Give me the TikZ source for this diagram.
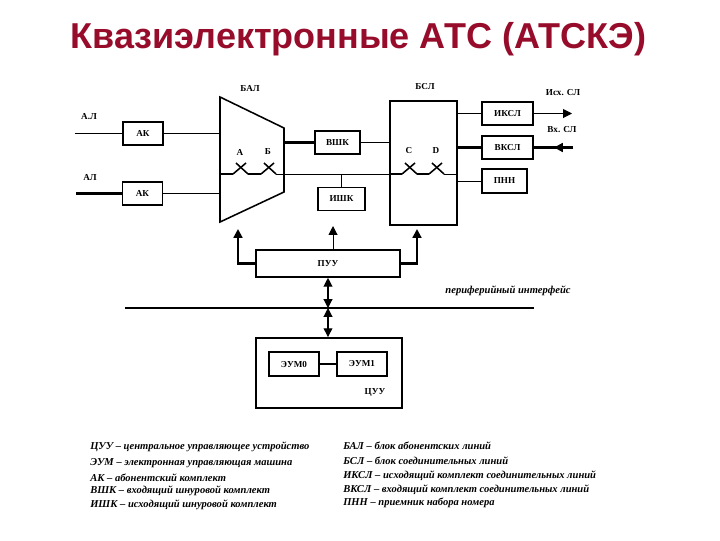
\documentclass[tikz,border=0pt]{standalone}
\usepackage{fontspec}
\setmainfont{Liberation Serif}
\newfontfamily\titlefont{Liberation Sans}
\usetikzlibrary{arrows.meta,calc}
\definecolor{zagcolor}{RGB}{150,12,42}
\tikzset{
  blok/.style={draw=black, fill=white, line width=0.8pt, inner sep=0pt, font=\bfseries\fontsize{6.5}{7}\selectfont},
  blokt/.style={blok, line width=1.3pt},
  metka/.style={font=\bfseries\fontsize{6.5}{7}\selectfont, inner sep=0pt},
  tonk/.style={black, line width=0.7pt},
  tolst/.style={black, line width=1.5pt},
  strelka/.style={-{Triangle[length=2.2mm, width=2.2mm]}},
  dvoyn/.style={{Triangle[length=2.2mm, width=2.2mm]}-{Triangle[length=2.2mm, width=2.2mm]}, line width=0.8pt},
  legenda/.style={anchor=west, inner sep=0pt, font=\bfseries\itshape\fontsize{7.5}{9}\selectfont},
  titulo/.style={text=zagcolor, font=\titlefont\bfseries\fontsize{25.6}{28}\selectfont, inner sep=0pt},
}
\newcommand{\klyuch}[1]{%
  \draw[tolst, line width=1.1pt] (#1) -- ++(13,-11);
  \draw[tolst, line width=1.1pt] ($(#1)+(3,-11)$) -- ++(12,11);
}
\begin{document}
\begin{tikzpicture}[x=0.025cm, y=-0.025cm]
  \useasboundingbox (0,0) rectangle (720,540);

  \node[titulo] (zagolovok) at (358.5,39) {Квазиэлектронные АТС (АТСКЭ)};

  % ---------------- abonent side ----------------
  \coordinate (T1) at (220,97);
  \coordinate (T2) at (284,128);
  \coordinate (T3) at (284,192);
  \coordinate (T4) at (220,222);
  \draw[tolst, line width=1.1pt, line join=miter] (T1) -- (T2) -- (T3) -- (T4) -- cycle;
  \node[metka] (balt) at (250,89) {БАЛ};
  \node[blok, minimum width=1cm, minimum height=0.575cm] (ak1) at (143,133.5) {АК};
  \node[blok, minimum width=0.98cm, minimum height=0.575cm] (ak2) at (142.5,193.5) {АК};
  \coordinate (al1) at (75,133.5);
  \coordinate (al2) at (76,193.5);
  \node[metka] (al1t) at (89,117) {А.Л};
  \node[metka] (al2t) at (90,178) {АЛ};
  \draw[tonk] (al1) -- (ak1);
  \draw[tolst] (al2) -- (ak2);
  \draw[tonk] (ak1) -- (ak1 -| T1);
  \draw[tonk] (ak2) -- (ak2 -| T1);

  % ---------------- middle boxes ----------------
  \node[blok, line width=1.1pt, minimum width=1.125cm, minimum height=0.575cm] (vshk) at (337.5,142.5) {ВШК};
  \node[blok, minimum width=1.175cm, minimum height=0.575cm] (ishk) at (341.5,199) {ИШК};
  \node[blokt, minimum width=1.675cm, minimum height=3.1cm] (bsl) at (423.5,163) {};
  \node[metka] (bslt) at (425,87) {БСЛ};
  \draw[tolst] (vshk) -- (vshk -| T2);
  \draw[tonk] (vshk) -- (vshk -| bsl.west);

  % ---------------- switches ----------------
  \coordinate (L0) at (220,174);
  \coordinate (SA) at (233,174);
  \coordinate (SAe) at (248,174);
  \coordinate (SB) at (261,174);
  \coordinate (SBe) at (276,174);
  \coordinate (SC) at (402,174);
  \coordinate (SCe) at (417,174);
  \coordinate (SD) at (429,174);
  \coordinate (SDe) at (444,174);
  \coordinate (L1) at (457,174);
  \draw[tolst, line width=1.1pt] (L0) -- (SA);
  \draw[tolst, line width=1.1pt] (SAe) -- (SB);
  \draw[tonk] (SBe) -- (SC);
  \draw[tolst, line width=1.1pt] (SCe) -- (SD);
  \draw[tonk] (SDe) -- (L1);
  \draw[tolst, line width=1.1pt] (bsl.west |- L0) -- (SC);
  \foreach \s in {SA,SB,SC,SD} { \klyuch{\s} }
  \draw[tonk] (ishk.north |- L0) -- (ishk.north);
  \node[metka] (at) at (240,152) {А};
  \node[metka] (bt) at (268,152) {Б};
  \node[metka] (ct) at (409,151) {С};
  \node[metka] (dt) at (436,151) {D};

  % ---------------- line side ----------------
  \node[blokt, minimum width=1.275cm, minimum height=0.575cm] (iksl) at (507.5,113.5) {ИКСЛ};
  \node[blokt, minimum width=1.275cm, minimum height=0.575cm] (vksl) at (507.5,147.5) {ВКСЛ};
  \node[blokt, minimum width=1.125cm, minimum height=0.6cm] (pnn) at (504.5,181) {ПНН};
  \foreach \b in {iksl,pnn} { \draw[tonk] (\b) -- (\b -| bsl.east); }
  \draw[tolst] (vksl) -- (vksl -| bsl.east);
  \coordinate (isx) at (572,113.5);
  \coordinate (vx) at (573,147.5);
  \coordinate (vxm) at (554,147.5);
  \draw[tonk, strelka] (iksl) -- (isx);
  \draw[tolst] (vksl) -- (vx);
  \draw[tolst, strelka] (vx) -- (vxm);
  \node[metka] (isxt) at (563,93) {Исх. СЛ};
  \node[metka] (vxt) at (562,130) {Вх. СЛ};

  % ---------------- control ----------------
  \node[blok, line width=1.1pt, minimum width=3.6cm, minimum height=0.675cm] (puu) at (328,263.5) {ПУУ};
  \coordinate (pa) at (238,229);
  \coordinate (pb) at (333,226);
  \coordinate (pc) at (417,229);
  \draw[tolst, strelka] (puu.west) -| (pa);
  \draw[tonk, strelka] (puu.north -| pb) -- (pb);
  \draw[tolst, strelka] (puu.east) -| (pc);

  % ---------------- bus ----------------
  \coordinate (sh1) at (125,308);
  \coordinate (sh2) at (534,308);
  \coordinate (shm) at (328,308);
  \draw[tolst] (sh1) -- (sh2);
  \node[anchor=center, inner sep=0pt, font=\bfseries\itshape\fontsize{7.5}{9}\selectfont] (pif) at (508,291) {периферийный интерфейс};
  \draw[dvoyn] (puu.south -| shm) -- (shm);

  % ---------------- central unit ----------------
  \node[blokt, minimum width=3.65cm, minimum height=1.75cm] (cuu) at (329,373) {};
  \node[metka] (cuut) at (375,392) {ЦУУ};
  \node[blokt, minimum width=1.25cm, minimum height=0.6cm] (eum0) at (294,364) {ЭУМ0};
  \node[blokt, minimum width=1.25cm, minimum height=0.6cm] (eum1) at (362,364) {ЭУМ1};
  \draw[tolst, line width=1.1pt] (eum0) -- (eum1);
  \draw[dvoyn] (shm) -- (cuu.north -| shm);

  % ---------------- legend ----------------
  \node[legenda] (lg1) at (90,447) {ЦУУ – центральное управляющее устройство};
  \node[legenda] (lg2) at (90,463) {ЭУМ – электронная управляющая машина};
  \node[legenda] (lg3) at (90,478) {АК – абонентский комплект};
  \node[legenda] (lg4) at (90,491) {ВШК – входящий шнуровой комплект};
  \node[legenda] (lg5) at (90,505) {ИШК – исходящий шнуровой комплект};
  \node[legenda] (lg6) at (343,446) {БАЛ – блок абонентских линий};
  \node[legenda] (lg7) at (343,461) {БСЛ – блок соединительных линий};
  \node[legenda] (lg8) at (343,476) {ИКСЛ – исходящий комплект соединительных линий};
  \node[legenda] (lg9) at (343,490) {ВКСЛ – входящий комплект соединительных линий};
  \node[legenda] (lg10) at (343,503) {ПНН – приемник набора номера};
\end{tikzpicture}
\end{document}
